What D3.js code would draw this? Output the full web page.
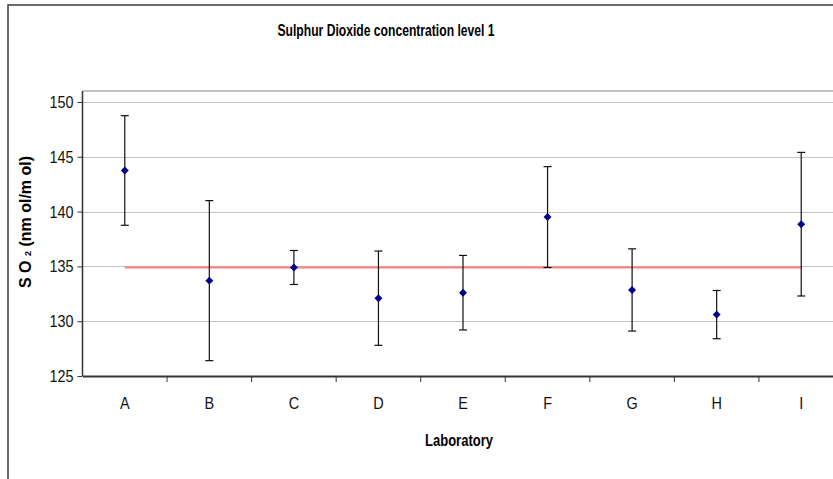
<!DOCTYPE html>
<html>
<head>
<meta charset="utf-8">
<script src="https://cdn.jsdelivr.net/npm/d3@7"></script>
<style>
  body { margin: 0; background: #fff; }
  svg { display: block; }
</style>
</head>
<body>
<div class="chart"></div>
<script>
/** data */
let labs = ["A", "B", "C", "D", "E", "F", "G", "H", "I"];
let so2_mean = [143.75, 133.7, 134.9, 132.1, 132.6, 139.5, 132.85, 130.6, 138.85];
let so2_err = [5.0, 7.3, 1.55, 4.3, 3.4, 4.6, 3.75, 2.2, 6.55];
let ref_value = 134.9;
let y_ticks = [125, 130, 135, 140, 145, 150];

/** canvas */
let width = 833, height = 479;
let plot = { left: 82.5, right: 843.5, top: 91, bottom: 376 };
let font = '"Liberation Sans", Arial, sans-serif';

let svg = d3.select('.chart').append('svg')
    .attr('width', width)
    .attr('height', height);

/** outer chart border (cut off at right and bottom) */
svg.append('rect')
    .attr('x', 8).attr('y', 5)
    .attr('width', width + 20).attr('height', height + 20)
    .attr('fill', 'none')
    .attr('stroke', '#3a3a3a')
    .attr('stroke-width', 1.5);

/** scales */
let xScale = d3.scaleBand()
    .domain(labs)
    .range([plot.left, plot.right]);

let yScale = d3.scaleLinear()
    .domain([125, 151])
    .range([plot.bottom, plot.top]);

/** grid lines */
svg.append('g')
    .selectAll('line')
    .data(y_ticks.slice(1))
    .enter()
        .append('line')
        .attr('x1', plot.left).attr('x2', width)
        .attr('y1', d => Math.round(yScale(d)) + 0.5)
        .attr('y2', d => Math.round(yScale(d)) + 0.5)
        .attr('stroke', '#c4c4c4')
        .attr('stroke-width', 1);

/** plot area top edge */
svg.append('line')
    .attr('x1', plot.left).attr('x2', width)
    .attr('y1', plot.top).attr('y2', plot.top)
    .attr('stroke', '#8a8a8a');

/** reference line */
svg.append('line')
    .attr('x1', xScale('A') + xScale.bandwidth() / 2)
    .attr('x2', xScale('I') + xScale.bandwidth() / 2)
    .attr('y1', yScale(ref_value)).attr('y2', yScale(ref_value))
    .attr('stroke', '#ff7f7f')
    .attr('stroke-width', 2);

/** axes */
let yAxis = d3.axisLeft(yScale).tickValues(y_ticks).tickSize(5).tickSizeOuter(0);
let yG = svg.append('g')
    .attr('transform', `translate(${plot.left},0)`)
    .call(yAxis);
yG.select('.domain').attr('stroke', '#333').attr('stroke-width', 1.5)
    .attr('d', `M0,${plot.top}V${plot.bottom}`);
yG.selectAll('.tick line').attr('stroke', '#333');
yG.selectAll('.tick text')
    .attr('x', -9)
    .attr('textLength', 24)
    .attr('lengthAdjust', 'spacingAndGlyphs')
    .style('font-family', font)
    .style('font-size', '17px')
    .attr('fill', '#111');

let xAxis = d3.axisBottom(xScale).tickSize(0).tickSizeOuter(0);
let xG = svg.append('g')
    .attr('transform', `translate(0,${plot.bottom})`)
    .call(xAxis);
xG.select('.domain').attr('stroke', '#333').attr('stroke-width', 1.8);
xG.selectAll('.tick text')
    .attr('y', 21)
    .attr('transform', 'scale(0.85,1)')
    .style('font-family', font)
    .style('font-size', '17px')
    .attr('fill', '#111');

/** category separators on the x axis */
xG.append('g')
    .selectAll('line')
    .data(labs.slice(1))
    .enter()
        .append('line')
        .attr('x1', d => xScale(d)).attr('x2', d => xScale(d))
        .attr('y1', 0).attr('y2', 6)
        .attr('stroke', '#333');

/** error bars */
let bars = svg.append('g')
    .selectAll('g')
    .data(labs.map((k, i) => ({ key: k, value: so2_mean[i], err: so2_err[i] })))
    .enter()
        .append('g')
        .attr('transform', d => `translate(${xScale(d.key) + xScale.bandwidth() / 2},0)`);

bars.append('line')
    .attr('y1', d => yScale(d.value + d.err))
    .attr('y2', d => yScale(d.value - d.err))
    .attr('stroke', '#111')
    .attr('stroke-width', 1.2);
bars.selectAll('.cap')
    .data(d => [d.value + d.err, d.value - d.err])
    .enter()
        .append('line')
        .attr('class', 'cap')
        .attr('x1', -4).attr('x2', 4)
        .attr('y1', d => yScale(d)).attr('y2', d => yScale(d))
        .attr('stroke', '#111')
        .attr('stroke-width', 1.2);

/** diamond markers */
bars.append('path')
    .attr('d', d3.symbol(d3.symbolDiamond2, 40))
    .attr('transform', d => `translate(0,${yScale(d.value)})`)
    .attr('fill', '#00008b');

/** titles */
svg.append('text')
    .attr('x', 386).attr('y', 36)
    .attr('text-anchor', 'middle')
    .attr('textLength', 217)
    .attr('lengthAdjust', 'spacingAndGlyphs')
    .style('font-family', font)
    .style('font-weight', 'bold')
    .style('font-size', '16px')
    .text('Sulphur Dioxide concentration level 1');

svg.append('text')
    .attr('x', 459).attr('y', 446)
    .attr('text-anchor', 'middle')
    .attr('textLength', 68)
    .attr('lengthAdjust', 'spacingAndGlyphs')
    .style('font-family', font)
    .style('font-weight', 'bold')
    .style('font-size', '17px')
    .text('Laboratory');

let yLabel = svg.append('text')
    .attr('transform', 'translate(31,222) rotate(-90)')
    .attr('text-anchor', 'middle')
    .style('font-family', font)
    .style('font-weight', 'bold')
    .style('font-size', '16px');
yLabel.append('tspan').text('S O ');
yLabel.append('tspan').style('font-size', '9px').text('2');
yLabel.append('tspan').text(' (nm ol/m ol)');
</script>
</body>
</html>
